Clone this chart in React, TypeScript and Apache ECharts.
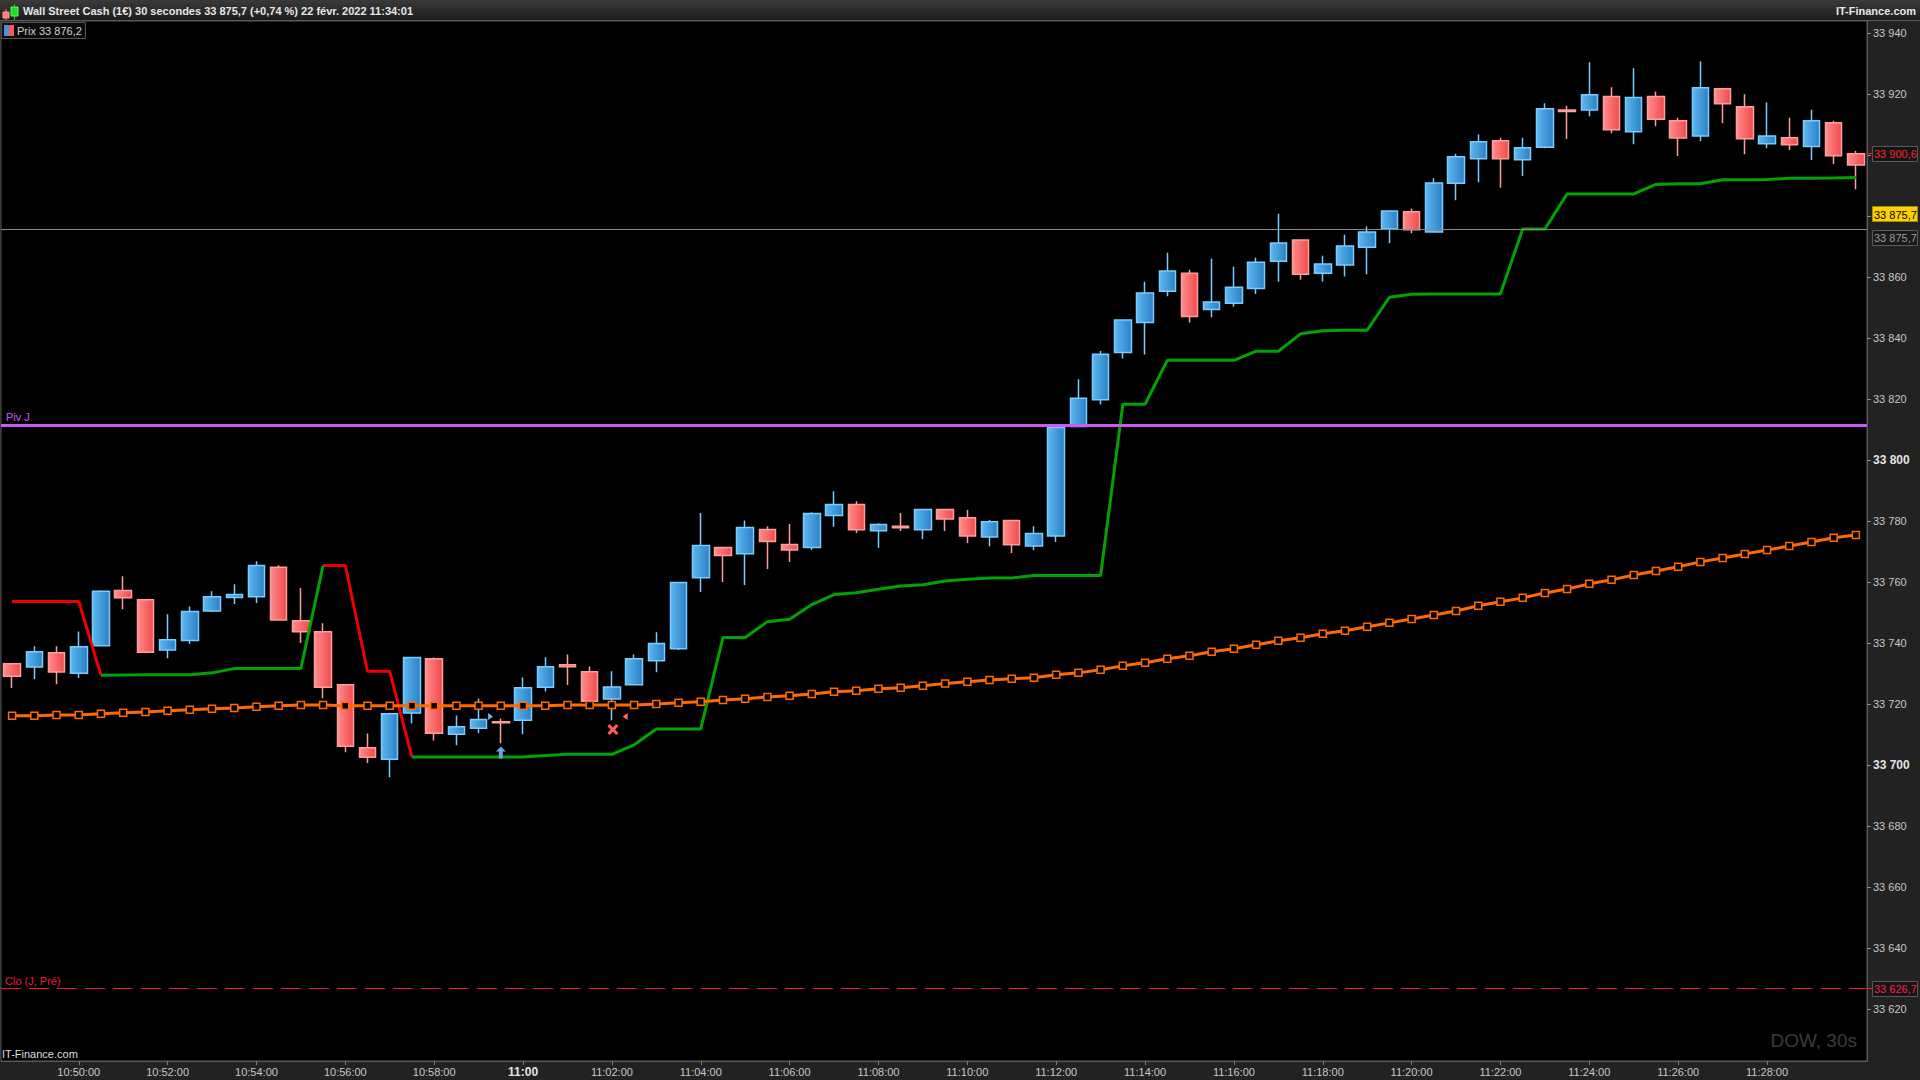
import React, { useEffect, useRef } from "react";
import * as echarts from "echarts";

// ---------- data ----------
const times: string[] = (
  "10:48:30 10:49:00 10:49:30 10:50:00 10:50:30 10:51:00 10:51:30 10:52:00 10:52:30 10:53:00 " +
  "10:53:30 10:54:00 10:54:30 10:55:00 10:55:30 10:56:00 10:56:30 10:57:00 10:57:30 10:58:00 " +
  "10:58:30 10:59:00 10:59:30 11:00:00 11:00:30 11:01:00 11:01:30 11:02:00 11:02:30 11:03:00 " +
  "11:03:30 11:04:00 11:04:30 11:05:00 11:05:30 11:06:00 11:06:30 11:07:00 11:07:30 11:08:00 " +
  "11:08:30 11:09:00 11:09:30 11:10:00 11:10:30 11:11:00 11:11:30 11:12:00 11:12:30 11:13:00 " +
  "11:13:30 11:14:00 11:14:30 11:15:00 11:15:30 11:16:00 11:16:30 11:17:00 11:17:30 11:18:00 " +
  "11:18:30 11:19:00 11:19:30 11:20:00 11:20:30 11:21:00 11:21:30 11:22:00 11:22:30 11:23:00 " +
  "11:23:30 11:24:00 11:24:30 11:25:00 11:25:30 11:26:00 11:26:30 11:27:00 11:27:30 11:28:00 " +
  "11:28:30 11:29:00 11:29:30 11:30:00"
).split(" ");

const tickTimes: string[] = [
  "10:50:00", "10:52:00", "10:54:00", "10:56:00", "10:58:00", "11:00:00", "11:02:00",
  "11:04:00", "11:06:00", "11:08:00", "11:10:00", "11:12:00", "11:14:00", "11:16:00",
  "11:18:00", "11:20:00", "11:22:00", "11:24:00", "11:26:00", "11:28:00",
];

const opens = [
  33733.2, 33732.1, 33736.8, 33730.1, 33739.1, 33757.2, 33754.2, 33737.7, 33740.8, 33750.5,
  33754.9, 33755.2, 33764.8, 33747.3, 33743.7, 33726.3, 33705.6, 33701.9, 33717.0, 33734.8,
  33710.1, 33712.0, 33714.2, 33714.7, 33725.5, 33732.9, 33730.6, 33721.6, 33726.3, 33734.2,
  33738.1, 33761.4, 33771.3, 33769.3, 33777.2, 33772.3, 33771.3, 33781.8, 33785.4, 33776.8,
  33778.3, 33777.1, 33783.8, 33781.1, 33774.8, 33780.2, 33771.8, 33775.1, 33811.0, 33819.8,
  33835.3, 33845.1, 33855.4, 33861.3, 33849.4, 33851.4, 33856.3, 33865.2, 33872.2, 33861.3,
  33864.0, 33869.8, 33875.8, 33881.4, 33874.8, 33890.8, 33898.8, 33904.7, 33898.5, 33902.6,
  33914.8, 33914.8, 33919.2, 33907.7, 33919.2, 33911.3, 33906.3, 33921.8, 33915.9, 33903.7,
  33905.7, 33902.8, 33910.6, 33900.5,
];
const closes = [
  33729.1, 33737.1, 33730.5, 33738.8, 33757.0, 33754.8, 33737.0, 33741.1, 33750.3, 33755.2,
  33755.9, 33765.4, 33747.5, 33743.7, 33725.5, 33706.1, 33702.5, 33716.8, 33735.2, 33710.4,
  33712.5, 33714.9, 33713.8, 33725.3, 33732.2, 33732.2, 33720.9, 33725.6, 33734.8, 33739.8,
  33759.8, 33772.0, 33768.7, 33777.9, 33773.3, 33770.5, 33782.5, 33785.4, 33777.1, 33778.9,
  33777.8, 33783.8, 33780.7, 33775.1, 33779.8, 33772.2, 33775.9, 33810.7, 33820.3, 33834.7,
  33845.9, 33854.8, 33862.0, 33847.1, 33851.8, 33856.7, 33864.9, 33871.2, 33860.9, 33864.3,
  33870.2, 33874.8, 33881.7, 33875.5, 33890.9, 33899.5, 33904.4, 33898.8, 33902.4, 33915.2,
  33914.3, 33919.8, 33908.3, 33918.9, 33911.8, 33905.6, 33922.1, 33916.9, 33905.4, 33906.3,
  33903.4, 33911.3, 33899.8, 33896.8,
];
const lows = [
  33725.2, 33728.2, 33726.5, 33728.5, 33739.1, 33751.1, 33737.0, 33735.0, 33739.7, 33750.2,
  33752.8, 33753.1, 33747.5, 33740.0, 33721.9, 33704.2, 33700.6, 33696.0, 33713.6, 33708.0,
  33706.5, 33710.4, 33707.1, 33710.1, 33724.1, 33726.2, 33720.9, 33714.7, 33726.3, 33730.4,
  33737.7, 33756.7, 33760.0, 33759.0, 33764.3, 33766.6, 33770.5, 33778.1, 33776.1, 33771.2,
  33776.7, 33774.1, 33776.7, 33772.8, 33771.7, 33769.5, 33770.4, 33773.1, 33811.0, 33818.2,
  33833.3, 33834.6, 33853.7, 33845.1, 33846.8, 33850.3, 33854.5, 33858.5, 33859.1, 33858.6,
  33860.2, 33860.9, 33871.1, 33874.4, 33874.8, 33885.2, 33891.1, 33889.3, 33893.2, 33902.3,
  33905.3, 33912.8, 33907.2, 33903.6, 33909.5, 33899.7, 33904.6, 33910.5, 33900.3, 33902.3,
  33901.7, 33898.4, 33897.1, 33888.8,
];
const highs = [
  33733.2, 33738.9, 33738.9, 33743.8, 33757.3, 33761.9, 33754.2, 33749.4, 33752.0, 33757.0,
  33759.3, 33766.8, 33765.5, 33758.0, 33746.5, 33726.3, 33710.3, 33717.1, 33735.2, 33735.2,
  33716.2, 33721.8, 33715.2, 33728.7, 33735.3, 33736.2, 33732.3, 33730.7, 33736.2, 33743.5,
  33759.8, 33782.6, 33771.3, 33780.2, 33778.3, 33779.0, 33782.9, 33789.8, 33786.5, 33779.3,
  33782.6, 33783.8, 33783.8, 33783.6, 33780.3, 33780.2, 33778.3, 33810.7, 33826.5, 33835.8,
  33845.9, 33858.5, 33868.0, 33862.4, 33866.0, 33863.4, 33866.4, 33880.8, 33872.2, 33867.0,
  33873.9, 33876.6, 33881.7, 33882.5, 33892.4, 33900.5, 33906.8, 33905.7, 33905.7, 33917.0,
  33916.2, 33930.5, 33922.3, 33928.5, 33920.9, 33912.3, 33930.8, 33922.1, 33920.0, 33917.3,
  33912.3, 33914.9, 33911.3, 33901.4,
];

// moving average (orange, square markers)
const maValues = [
  33716.1, 33716.1, 33716.4, 33716.4, 33716.8, 33717.1, 33717.4, 33717.8, 33718.1, 33718.4,
  33718.7, 33719.1, 33719.4, 33719.7, 33719.7, 33719.4, 33719.4, 33719.4, 33719.4, 33719.4,
  33719.4, 33719.4, 33719.4, 33719.4, 33719.4, 33719.7, 33719.7, 33719.7, 33719.7, 33720.0,
  33720.4, 33720.7, 33721.3, 33721.7, 33722.3, 33722.7, 33723.3, 33724.0, 33724.3, 33725.0,
  33725.3, 33726.0, 33726.7, 33727.3, 33727.9, 33728.3, 33728.6, 33729.6, 33730.2, 33731.2,
  33732.5, 33733.5, 33734.8, 33735.8, 33737.1, 33738.1, 33739.4, 33740.7, 33741.7, 33743.0,
  33744.0, 33745.3, 33746.6, 33747.9, 33749.2, 33750.5, 33752.2, 33753.5, 33754.8, 33756.4,
  33757.7, 33759.4, 33760.7, 33762.3, 33763.6, 33765.0, 33766.6, 33767.9, 33769.2, 33770.5,
  33771.8, 33773.1, 33774.5, 33775.4,
];

// trailing stop (red above price / green below price)
const trendValues = [
  33753.6, 33753.6, 33753.6, 33753.6, 33729.4, 33729.5, 33729.6, 33729.6, 33729.6, 33730.2,
  33731.6, 33731.6, 33731.6, 33731.6, 33765.4, 33765.4, 33730.7, 33730.7, 33702.6, 33702.6,
  33702.6, 33702.6, 33702.6, 33702.6, 33703.1, 33703.5, 33703.5, 33703.5, 33706.6, 33711.8,
  33711.8, 33711.8, 33741.8, 33741.8, 33747.0, 33747.8, 33752.6, 33755.9, 33756.5, 33757.6,
  33758.7, 33759.1, 33760.3, 33760.9, 33761.3, 33761.3, 33762.1, 33762.1, 33762.1, 33762.1,
  33818.3, 33818.3, 33832.7, 33832.7, 33832.7, 33832.7, 33835.7, 33835.7, 33841.4, 33842.4,
  33842.6, 33842.6, 33853.4, 33854.4, 33854.5, 33854.5, 33854.5, 33854.5, 33875.8, 33875.8,
  33887.3, 33887.3, 33887.3, 33887.3, 33890.4, 33890.6, 33890.6, 33891.9, 33891.9, 33892.0,
  33892.4, 33892.4, 33892.5, 33892.7,
];
const trendSide: string[] = (
  "RRRRGGGGGGGGGGRRRRGGGGGGGGGGGGGGGGGGGGGGGGGGGGGGGGGGGGGGGGGGGGGGGGGGGGGGGGGGGGGGGGGG"
).split("");

// axis ticks (all) and axis labels (those not covered by the price boxes)
const yTickValues = [
  33620, 33640, 33660, 33680, 33700, 33720, 33740, 33760, 33780, 33800,
  33820, 33840, 33860, 33880, 33900, 33920, 33940,
];
const yLabelValues = [
  33620, 33640, 33660, 33680, 33700, 33720, 33740, 33760, 33780, 33800,
  33820, 33840, 33860, 33920, 33940,
];
const boldYTicks = [33700, 33800];

const pivotLevel = 33811.5;
const prevCloseLevel = 33626.7;
const lastPriceLevel = 33875.7;
const openPriceLevel = 33900.6;

const signalKinds = ["arrowUp", "triRight", "triLeft", "cross"];
const signalIndex = [22, 21, 28, 27];
const signalPrice = [33704.1, 33715.9, 33715.9, 33711.6];

// ---------- helpers ----------
const FONT = "Liberation Sans, Arial, sans-serif";
const fmtPrice = (v: number) => {
  const th = Math.floor(v / 1000);
  const rest = v - th * 1000;
  const isInt = Math.abs(rest - Math.round(rest)) < 1e-6;
  const restStr = isInt
    ? String(Math.round(rest)).padStart(3, "0")
    : rest.toFixed(1).padStart(5, "0").replace(".", ",");
  return th + " " + restStr;
};

const signalStyle: Record<string, any> = {
  arrowUp: { symbol: "path://M5,0 L10,5 L7,5 L7,12 L3,12 L3,5 L0,5 Z", size: [10, 12], color: "#6aa3e0", offset: [0, 0] },
  triRight: { symbol: "path://M0,0 L6,4 L0,8 Z", size: [5, 7], color: "#6ab4f4", offset: [12, 0] },
  triLeft: { symbol: "path://M6,0 L0,4 L6,8 Z", size: [5, 7], color: "#ff6a6a", offset: [-9, 0] },
  cross: { symbol: "path://M2,0 L5,3 L8,0 L10,2 L7,5 L10,8 L8,10 L5,7 L2,10 L0,8 L3,5 L0,2 Z", size: [11, 11], color: "#ff5c5c", offset: [1, 0] },
};

export default function App() {
  const ref = useRef<HTMLDivElement>(null);

  useEffect(() => {
    const el = ref.current!;
    const chart = echarts.init(el, null, { renderer: "svg" });

    const candleData = opens.map((o, i) => [o, closes[i], lows[i], highs[i]]);
    const redData = trendValues.map((v, i) =>
      trendSide[i] === "R" || (i > 0 && trendSide[i - 1] === "R") ? v : null
    );
    const greenData = trendValues.map((v, i) =>
      trendSide[i] === "G" || (i > 0 && trendSide[i - 1] === "G") ? v : null
    );

    const upFill = new echarts.graphic.LinearGradient(0, 0, 1, 0, [
      { offset: 0, color: "#5db7f1" },
      { offset: 1, color: "#2a80c4" },
    ]);
    const downFill = new echarts.graphic.LinearGradient(0, 0, 1, 0, [
      { offset: 0, color: "#ff8c8c" },
      { offset: 1, color: "#f04a4a" },
    ]);

    const isTick = (_idx: number, value: string) => tickTimes.indexOf(value) >= 0;

    const option: any = {
      animation: false,
      backgroundColor: "#222222",
      textStyle: { fontFamily: FONT },
      grid: {
        left: 1,
        right: 53,
        top: 21,
        bottom: 19,
        show: true,
        backgroundColor: "#000000",
        borderColor: "#555555",
        borderWidth: 1,
        containLabel: false,
        outerBoundsMode: "none",
      },
      xAxis: {
        type: "category",
        data: times,
        boundaryGap: true,
        axisLine: { show: true, lineStyle: { color: "#5a5a5a", width: 1 } },
        axisTick: {
          show: true,
          interval: isTick,
          alignWithLabel: true,
          length: 4,
          lineStyle: { color: "#7a7a7a" },
        },
        axisLabel: {
          interval: isTick,
          color: "#c8c8c8",
          fontSize: 11,
          fontFamily: FONT,
          margin: 5,
          formatter: (v: string) => (v === "11:00:00" ? "{b|11:00}" : v),
          rich: { b: { fontWeight: "bold", fontSize: 12, color: "#e2e2e2", fontFamily: FONT } },
        },
        splitLine: { show: false },
      },
      yAxis: {
        type: "value",
        position: "right",
        min: 33602.9,
        max: 33944.0,
        scale: true,
        axisLine: { show: true, lineStyle: { color: "#5a5a5a" } },
        axisTick: {
          show: true,
          length: 4,
          customValues: yTickValues,
          lineStyle: { color: "#8a8a8a" },
        },
        axisLabel: {
          customValues: yLabelValues,
          color: "#c8c8c8",
          fontSize: 11,
          fontFamily: FONT,
          margin: 6,
          formatter: (v: number) =>
            boldYTicks.indexOf(v) >= 0 ? "{b|" + fmtPrice(v) + "}" : fmtPrice(v),
          rich: { b: { fontWeight: "bold", fontSize: 12, color: "#e2e2e2", fontFamily: FONT } },
        },
        splitLine: { show: false },
      },
      series: [
        {
          type: "candlestick",
          name: "Prix",
          data: candleData,
          barWidth: 17,
          z: 2,
          itemStyle: {
            color: upFill,
            color0: downFill,
            borderColor: "#78ccff",
            borderColor0: "#ff9c9c",
            borderWidth: 1.5,
          },
          markLine: {
            silent: true,
            symbol: ["none", "none"],
            label: { show: false },
            data: [
              { yAxis: lastPriceLevel, lineStyle: { color: "#8c8c8c", width: 1, type: "solid" } },
            ],
          },
        },
        {
          type: "line",
          name: "Moyenne",
          data: maValues,
          z: 4,
          symbol: "rect",
          symbolSize: 7,
          showAllSymbol: true,
          lineStyle: { color: "#ff6a00", width: 3 },
          itemStyle: { color: "#000000", borderColor: "#ff6a00", borderWidth: 1.5 },
          markLine: {
            silent: true,
            symbol: ["none", "none"],
            label: { show: false },
            data: [
              { yAxis: pivotLevel, lineStyle: { color: "#c95cf0", width: 3, type: "solid" } },
              { yAxis: prevCloseLevel, lineStyle: { color: "#f0143c", width: 1, type: [20, 8] } },
            ],
          },
        },
        {
          type: "line",
          name: "Stop haut",
          data: redData,
          z: 3,
          symbol: "none",
          connectNulls: false,
          lineStyle: { color: "#ee0000", width: 3 },
        },
        {
          type: "line",
          name: "Stop bas",
          data: greenData,
          z: 3,
          symbol: "none",
          connectNulls: false,
          lineStyle: { color: "#00a300", width: 3 },
        },
        ...signalKinds.map((k, i) => ({
          type: "scatter",
          name: k,
          z: 6,
          data: [[signalIndex[i], signalPrice[i]]],
          symbol: signalStyle[k].symbol,
          symbolSize: signalStyle[k].size,
          symbolOffset: signalStyle[k].offset,
          itemStyle: { color: signalStyle[k].color, opacity: 1 },
        })),
      ],
    };

    chart.setOption(option);

    const yPx = (v: number) => chart.convertToPixel({ yAxisIndex: 0 }, v) as number;
    const yPiv = yPx(pivotLevel);
    const yClo = yPx(prevCloseLevel);
    const yLast = yPx(lastPriceLevel);
    const yOpen = yPx(openPriceLevel);

    const txt = (x: number, y: number, text: string, extra: any = {}, z = 110) => ({
      type: "text",
      x,
      y,
      z,
      silent: true,
      style: {
        text,
        fill: extra.fill || "#d0d0d0",
        fontSize: extra.fontSize || 11,
        fontWeight: extra.fontWeight || "normal",
        fontFamily: FONT,
        align: extra.align || "left",
        textAlign: extra.align || "left",
        verticalAlign: "middle",
        textVerticalAlign: "middle",
      },
    });

    const priceBox = (cy: number, text: string, fill: string, stroke: string, color: string) => [
      {
        type: "rect",
        z: 108,
        silent: true,
        shape: { x: 1872.5, y: Math.round(cy - 7.5) + 0.5, width: 45, height: 15 },
        style: { fill, stroke, lineWidth: 1 },
      },
      txt(1874, Math.round(cy) + 0.5, text, { fill: color }, 109),
    ];

    const graphics: any[] = [
      // header bar
      {
        type: "rect",
        z: 100,
        silent: true,
        shape: { x: 0, y: 0, width: 1920, height: 20 },
        style: {
          fill: new echarts.graphic.LinearGradient(0, 0, 0, 1, [
            { offset: 0, color: "#3a3a3a" },
            { offset: 1, color: "#1c1c1c" },
          ]),
        },
      },
      {
        type: "line",
        z: 101,
        silent: true,
        shape: { x1: 0, y1: 20.5, x2: 1920, y2: 20.5 },
        style: { stroke: "#5c5c5c", lineWidth: 1 },
      },
      // header icon
      { type: "line", z: 102, silent: true, shape: { x1: 6, y1: 9, x2: 6, y2: 20 }, style: { stroke: "#ff7070", lineWidth: 1 } },
      { type: "rect", z: 103, silent: true, shape: { x: 3, y: 12, width: 6, height: 6 }, style: { fill: "#ff7a7a", stroke: "#ff9a9a" } },
      { type: "line", z: 102, silent: true, shape: { x1: 14.5, y1: 4, x2: 14.5, y2: 20 }, style: { stroke: "#20d020", lineWidth: 1 } },
      { type: "rect", z: 103, silent: true, shape: { x: 11, y: 7, width: 7, height: 9 }, style: { fill: "#22dd22", stroke: "#55ff55" } },
      txt(23, 10.5, "Wall Street Cash (1€) 30 secondes 33 875,7 (+0,74 %) 22 févr. 2022 11:34:01", {
        fill: "#e6e6e6",
        fontWeight: "bold",
      }),
      txt(1916, 10.5, "IT-Finance.com", { fill: "#e6e6e6", fontWeight: "bold", align: "right" }),
      // legend box
      {
        type: "rect",
        z: 100,
        silent: true,
        shape: { x: 1.5, y: 22.5, width: 84, height: 16 },
        style: { fill: "#0c0c0c", stroke: "#555555", lineWidth: 1 },
      },
      { type: "rect", z: 101, silent: true, shape: { x: 4, y: 25, width: 5, height: 11 }, style: { fill: "#4a8fe0" } },
      { type: "rect", z: 101, silent: true, shape: { x: 9, y: 25, width: 5, height: 11 }, style: { fill: "#ff5555" } },
      txt(17, 31, "Prix 33 876,2", { fill: "#cfcfcf" }),
      // level labels on the left
      txt(6, yPiv - 7.5, "Piv J", { fill: "#c95cf0" }),
      txt(5, yClo - 7, "Clo (J, Pré)", { fill: "#f0143c" }),
      // footer texts
      txt(2, 1054, "IT-Finance.com", { fill: "#dedede" }),
      txt(1857, 1040, "DOW, 30s", { fill: "#3b3b3b", fontSize: 19, align: "right" }),
      // right-axis ticks for marked levels
      { type: "line", z: 107, silent: true, shape: { x1: 1867, y1: Math.round(yOpen) + 0.5, x2: 1872, y2: Math.round(yOpen) + 0.5 }, style: { stroke: "#ff2020", lineWidth: 1 } },
      { type: "line", z: 107, silent: true, shape: { x1: 1867, y1: Math.round(yClo) + 0.5, x2: 1872, y2: Math.round(yClo) + 0.5 }, style: { stroke: "#f0143c", lineWidth: 1 } },
      ...priceBox(yOpen, fmtPrice(openPriceLevel), "#141414", "#5a5a5a", "#ff2424"),
      ...priceBox(yLast - 15.5, fmtPrice(lastPriceLevel), "#ffd000", "#a08a20", "#000000"),
      ...priceBox(yLast + 8, fmtPrice(lastPriceLevel), "#1a1a1a", "#5a5a5a", "#9a9a9a"),
      ...priceBox(yClo, fmtPrice(prevCloseLevel), "#141414", "#5a5a5a", "#ff1f44"),
    ];

    chart.setOption({ graphic: graphics });

    return () => {
      chart.dispose();
    };
  }, []);

  return (
    <div
      ref={ref}
      style={{ position: "fixed", left: 0, top: 0, width: 1920, height: 1080, background: "#222" }}
    />
  );
}
